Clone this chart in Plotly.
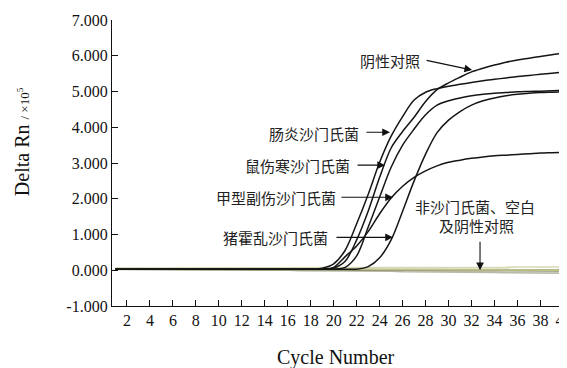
import plotly.graph_objects as go

cycles = list(range(1, 41))

# Salmonella amplification curves (Delta Rn, x10^5), read per cycle
enteritidis = [0.03, 0.03, 0.03, 0.03, 0.03, 0.03, 0.03, 0.03, 0.03, 0.03,
               0.03, 0.03, 0.03, 0.03, 0.03, 0.03, 0.03, 0.04, 0.06, 0.18,
               0.56, 1.30, 2.12, 3.02, 3.75, 4.30, 4.76, 4.98, 5.08, 5.15,
               5.20, 5.25, 5.30, 5.34, 5.38, 5.42, 5.45, 5.48, 5.51, 5.54]
typhimurium = [0.03, 0.03, 0.03, 0.03, 0.03, 0.03, 0.03, 0.03, 0.03, 0.03,
               0.03, 0.03, 0.03, 0.03, 0.03, 0.03, 0.03, 0.03, 0.03, 0.06,
               0.25, 0.85, 1.65, 2.60, 3.42, 3.88, 4.28, 4.72, 5.05, 5.24,
               5.40, 5.55, 5.65, 5.74, 5.82, 5.88, 5.93, 5.98, 6.03, 6.07]
control_curve = [0.03, 0.03, 0.03, 0.03, 0.03, 0.03, 0.03, 0.03, 0.03, 0.03,
                 0.03, 0.03, 0.03, 0.03, 0.03, 0.03, 0.03, 0.03, 0.03, 0.03,
                 0.08, 0.40, 1.20, 2.05, 2.88, 3.50, 3.95, 4.35, 4.62, 4.74,
                 4.82, 4.88, 4.92, 4.95, 4.97, 4.99, 5.00, 5.01, 5.02, 5.03]
paratyphi_a = [0.03, 0.03, 0.03, 0.03, 0.03, 0.03, 0.03, 0.03, 0.03, 0.03,
               0.03, 0.03, 0.03, 0.03, 0.03, 0.03, 0.03, 0.03, 0.03, 0.08,
               0.38, 0.68, 1.08, 1.58, 2.02, 2.35, 2.60, 2.78, 2.92, 3.02,
               3.08, 3.13, 3.17, 3.20, 3.22, 3.24, 3.26, 3.28, 3.29, 3.30]
choleraesuis = [0.03, 0.03, 0.03, 0.03, 0.03, 0.03, 0.03, 0.03, 0.03, 0.03,
                0.03, 0.03, 0.03, 0.03, 0.03, 0.03, 0.03, 0.03, 0.03, 0.03,
                0.03, 0.03, 0.10, 0.35, 0.85, 1.65, 2.50, 3.25, 3.85, 4.20,
                4.44, 4.62, 4.74, 4.82, 4.88, 4.92, 4.95, 4.97, 4.98, 4.99]

# Non-Salmonella, blank and negative control (flat lines)
neg_1 = [0.06, 0.06, 0.06, 0.06, 0.06, 0.06, 0.06, 0.06, 0.06, 0.06,
         0.07, 0.07, 0.07, 0.07, 0.07, 0.07, 0.07, 0.07, 0.07, 0.07,
         0.07, 0.07, 0.07, 0.07, 0.07, 0.08, 0.08, 0.08, 0.08, 0.08,
         0.08, 0.08, 0.08, 0.08, 0.08, 0.09, 0.09, 0.09, 0.09, 0.09]
neg_2 = [0.04, 0.04, 0.04, 0.04, 0.04, 0.04, 0.04, 0.04, 0.04, 0.04,
         0.04, 0.04, 0.04, 0.04, 0.04, 0.03, 0.03, 0.03, 0.03, 0.03,
         0.03, 0.03, 0.03, 0.03, 0.03, 0.03, 0.03, 0.03, 0.03, 0.03,
         0.02, 0.02, 0.02, 0.02, 0.02, 0.02, 0.02, 0.02, 0.02, 0.02]
neg_3 = [0.03, 0.03, 0.03, 0.03, 0.03, 0.03, 0.03, 0.03, 0.03, 0.02,
         0.02, 0.02, 0.02, 0.02, 0.02, 0.01, 0.01, 0.01, 0.01, 0.01,
         0.01, 0.00, 0.00, 0.00, 0.00, 0.00, 0.00, -0.01, -0.01, -0.01,
         -0.01, -0.01, -0.02, -0.02, -0.02, -0.02, -0.02, -0.02, -0.02, -0.02]
neg_4 = [0.02, 0.02, 0.02, 0.02, 0.02, 0.02, 0.02, 0.01, 0.01, 0.01,
         0.01, 0.01, 0.00, 0.00, 0.00, 0.00, -0.01, -0.01, -0.01, -0.02,
         -0.02, -0.02, -0.03, -0.03, -0.03, -0.04, -0.04, -0.04, -0.05, -0.05,
         -0.05, -0.06, -0.06, -0.06, -0.07, -0.07, -0.07, -0.08, -0.08, -0.08]
neg_5 = [0.05, 0.05, 0.05, 0.05, 0.05, 0.05, 0.05, 0.05, 0.05, 0.05,
         0.04, 0.04, 0.04, 0.04, 0.04, 0.04, 0.04, 0.03, 0.03, 0.03,
         0.03, 0.03, 0.03, 0.02, 0.02, 0.02, 0.02, 0.02, 0.01, 0.01,
         0.01, 0.01, 0.01, 0.01, 0.00, 0.00, 0.00, 0.00, 0.00, 0.00]

neg_series = [neg_4, neg_3, neg_2, neg_5, neg_1]
neg_colors = ["#b9b9aa", "#8f9268", "#a9ad78", "#bfc38f", "#d6d9b4"]

amp_series = [enteritidis, typhimurium, control_curve, paratyphi_a, choleraesuis]

x_ticks = list(range(2, 41, 2))
y_ticks = [-1, 0, 1, 2, 3, 4, 5, 6, 7]
y_tick_text = ["-1.000", "0.000", "1.000", "2.000", "3.000", "4.000", "5.000", "6.000", "7.000"]

# Labels: (text, text x, text y, tip x, tip y, arrow dx px, arrow dy px)
labels = [
    ("阴性对照", 24.9, 5.88, 32.05, 5.60, -47, -10),
    ("肠炎沙门氏菌", 18.3, 3.83, 24.9, 3.86, -25, 0),
    ("鼠伤寒沙门氏菌", 16.85, 2.94, 24.47, 2.94, -29, 0),
    ("甲型副伤沙门氏菌", 14.98, 2.04, 25.16, 2.04, -53, 0),
    ("猪霍乱沙门氏菌", 14.89, 0.92, 25.16, 0.92, -58, 0),
]
side_text = [("非沙门氏菌、空白", 32.34, 1.79), ("及阴性对照", 32.43, 1.26)]
side_arrow = (32.74, 0.0, 0, -30)

fig = go.Figure()
for ys, col in zip(neg_series, neg_colors):
    fig.add_trace(go.Scatter(x=cycles, y=ys, mode="lines",
                             line=dict(color=col, width=1.6), hoverinfo="skip"))
for ys in amp_series:
    fig.add_trace(go.Scatter(x=cycles, y=ys, mode="lines",
                             line=dict(color="#151515", width=1.5, shape="spline", smoothing=0.9),
                             hoverinfo="skip"))

cjk = dict(family="Noto Sans CJK SC", size=15, color="#222222")
anns = []
for text, tx, ty, hx, hy, dx, dy in labels:
    anns.append(dict(x=tx, y=ty, xref="x", yref="y", text=text, showarrow=False,
                     font=cjk, xanchor="center", yanchor="middle"))
    anns.append(dict(x=hx, y=hy, xref="x", yref="y", text="", showarrow=True,
                     ax=dx, ay=dy, arrowhead=2, arrowsize=1.4, arrowwidth=1.1,
                     arrowcolor="#111111"))
for text, tx, ty in side_text:
    anns.append(dict(x=tx, y=ty, xref="x", yref="y", text=text, showarrow=False,
                     font=cjk, xanchor="center", yanchor="middle"))
anns.append(dict(x=side_arrow[0], y=side_arrow[1], xref="x", yref="y", text="",
                 showarrow=True, ax=side_arrow[2], ay=side_arrow[3], arrowhead=2,
                 arrowsize=1.4, arrowwidth=1.1, arrowcolor="#111111"))

serif = "Liberation Serif, Times New Roman, serif"
anns.append(dict(x=-0.199, y=0.573, xref="paper", yref="paper", textangle=-90,
                 text="Delta Rn <span style='font-size:13px'>/ ×10<sup>5</sup></span>",
                 showarrow=False, font=dict(family=serif, size=20, color="#111111"),
                 xanchor="center", yanchor="middle"))
anns.append(dict(x=0.495, y=-0.18, xref="paper", yref="paper", text="Cycle Number",
                 showarrow=False, font=dict(family=serif, size=20, color="#111111"),
                 xanchor="center", yanchor="middle"))

# page body has an 8px default margin, so the figure is 8px smaller and offset
fig.update_layout(
    width=559, height=360,
    margin=dict(l=104, r=3, t=12, b=62, pad=0, autoexpand=False),
    paper_bgcolor="white", plot_bgcolor="white",
    showlegend=False,
    annotations=anns,
    font=dict(family=serif, size=16, color="#111111"),
)
fig.update_xaxes(range=[0.7, 40.05], tickvals=x_ticks, ticks="inside", ticklen=6,
                 tickwidth=1.2, tickcolor="#111111", showline=True, linecolor="#111111",
                 linewidth=1.3, showgrid=False, zeroline=False, automargin=False,
                 ticklabeloverflow="allow",
                 tickfont=dict(family=serif, size=16, color="#111111"))
fig.update_yaxes(range=[-1, 7], tickvals=y_ticks, ticktext=y_tick_text, ticks="inside",
                 ticklen=6, tickwidth=1.2, tickcolor="#111111", showline=True,
                 linecolor="#111111", linewidth=1.3, showgrid=False, zeroline=False,
                 automargin=False,
                 tickfont=dict(family=serif, size=16, color="#111111"))

fig.write_html("out.html")
